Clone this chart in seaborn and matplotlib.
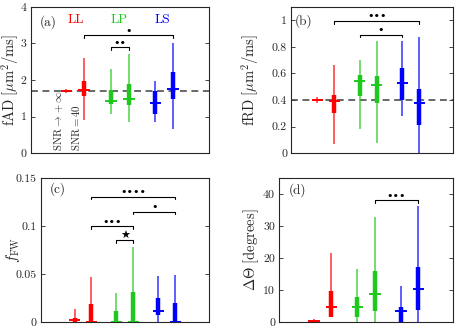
import numpy as np
import pandas as pd
import matplotlib
matplotlib.use("Agg")
import matplotlib.pyplot as plt
import seaborn as sns

# ---------------- data ----------------
positions = [1, 2, 3.5, 4.5, 6, 7]
group_colors = ["#ff0000", "#ff0000", "#1ec81e", "#1ec81e", "#0000ff", "#0000ff"]

# panel (a) fAD
a_wlo = [1.65, 0.91, 1.06, 0.85, 0.86, 0.66]
a_q1 = [1.68, 1.55, 1.35, 1.33, 1.06, 1.48]
a_med = [1.70, 1.72, 1.42, 1.49, 1.38, 1.76]
a_q3 = [1.72, 1.97, 1.74, 1.88, 1.70, 2.22]
a_whi = [1.75, 2.61, 2.31, 2.72, 1.96, 3.00]

# panel (b) fRD
b_wlo = [0.38, 0.07, 0.18, 0.075, 0.28, 0.0]
b_q1 = [0.395, 0.30, 0.43, 0.38, 0.40, 0.21]
b_med = [0.40, 0.39, 0.54, 0.515, 0.53, 0.375]
b_q3 = [0.405, 0.44, 0.59, 0.58, 0.64, 0.48]
b_whi = [0.42, 0.66, 0.70, 0.84, 0.84, 0.87]

# panel (c) fFW
c_wlo = [0.0, 0.0, 0.0, 0.0, 0.0, 0.0]
c_q1 = [0.0005, 0.0, 0.0, 0.0, 0.0073, 0.0]
c_med = [0.0025, 0.0, 0.0, 0.0, 0.0118, 0.0]
c_q3 = [0.004, 0.0187, 0.012, 0.031, 0.0253, 0.020]
c_whi = [0.0135, 0.0465, 0.0305, 0.0785, 0.048, 0.049]

# panel (d) Delta Theta
d_wlo = [0.0, 1.5, 0.0, 0.0, 0.0, 0.0]
d_q1 = [0.0, 1.5, 1.5, 3.5, 0.0, 3.7]
d_med = [0.3, 4.6, 4.6, 8.9, 3.5, 10.3]
d_q3 = [0.6, 9.7, 7.7, 16.0, 4.6, 17.2]
d_whi = [1.0, 21.6, 16.6, 32.7, 11.2, 36.1]

# significance brackets: (x index left, x index right, height, label)
a_sig = [(1, 5, 3.23, "•"), (2, 3, 2.90, "••")]
b_sig = [(1, 5, 0.995, "•••"), (2, 4, 0.89, "•")]
c_sig = [(1, 5, 0.1305, "••••"), (3, 5, 0.115, "•"), (1, 3, 0.100, "•••"), (2, 3, 0.0854, "★")]
d_sig = [(3, 5, 38.1, "•••")]

# ---------------- style ----------------
sns.set_theme(style="ticks")
plt.rcParams.update({
    "font.family": ["cmr10", "DejaVu Sans"],
    "mathtext.fontset": "cm",
    "axes.formatter.use_mathtext": True,
    "axes.edgecolor": "#262626",
    "axes.linewidth": 0.8,
    "xtick.direction": "in",
    "ytick.direction": "in",
    "ytick.major.size": 3,
    "ytick.major.width": 0.6,
    "ytick.labelsize": 8.5,
    "ytick.color": "#262626",
    "axes.labelsize": 10.5,
})

fig = plt.figure(figsize=(4.6, 3.3), dpi=100)

def panel(rect, wlo, q1, med, q3, whi, sig, ylim, yticks, yticklabels,
          ylabel, label_x, tag, tagpos, xlim=(-1, 9), dash=None):
    ax = fig.add_axes(rect)
    df = pd.DataFrame({"x": positions, "wlo": wlo, "q1": q1, "med": med,
                       "q3": q3, "whi": whi, "c": group_colors})
    if dash is not None:
        ax.axhline(dash, color="#404040", lw=1.1, ls=(0, (4.5, 3)), zorder=1)
    for _, r in df.iterrows():
        ax.vlines(r.x, r.wlo, r.whi, color=r.c, lw=1.1, alpha=0.8, zorder=2)
        ax.vlines(r.x, r.q1, r.q3, color=r.c, lw=3.2, zorder=3)
        ax.hlines(r.med, r.x - 0.33, r.x + 0.33, color=r.c, lw=1.4, zorder=4)
    h = ylim[1] - ylim[0]
    for i, j, y, lab in sig:
        x0, x1 = positions[i], positions[j]
        ax.plot([x0, x0, x1, x1], [y - h * 0.018, y, y, y - h * 0.018],
                color="black", lw=0.8, zorder=5)
        ax.text((x0 + x1) / 2, y - h * 0.004, lab, ha="center", va="bottom",
                fontsize=8 if lab != "★" else 8, family=["DejaVu Sans"],
                color="black")
    ax.set_xlim(*xlim)
    ax.set_ylim(*ylim)
    ax.set_xticks([])
    ax.set_yticks(yticks)
    ax.set_yticklabels(yticklabels)
    ax.tick_params(axis="y", right=True, left=True, pad=3)
    ax.set_ylabel(ylabel, va="center")
    ax.yaxis.set_label_coords(label_x, 0.5)
    ax.text(tagpos[0], tagpos[1], tag, transform=ax.transAxes, ha="left",
            va="center", fontsize=9.5)
    for s in ax.spines.values():
        s.set_visible(True)
    return ax

axa = panel([0.067, 0.536, 0.387, 0.443], a_wlo, a_q1, a_med, a_q3, a_whi, a_sig,
            (0, 4), [0, 1, 2, 3, 4], ["0", "1", "2", "3", "4"],
            r"$\mathrm{fAD}\ [\mu\mathrm{m}^2/\mathrm{ms}]$", -0.118, "(a)", (0.05, 0.897),
            dash=1.7)
for txt, x, col in [("LL", 1.52, "#ff0000"), ("LP", 3.95, "#1ec81e"), ("LS", 6.42, "#0000ff")]:
    axa.text(x, 3.64, txt, color=col, ha="center", va="center", fontsize=9.5)
axa.text(0.59, 0.06, r"$\mathrm{SNR}\rightarrow+\infty$", rotation=90, ha="center",
         va="bottom", fontsize=7.8)
axa.text(1.52, 0.06, r"$\mathrm{SNR}=40$", rotation=90, ha="center",
         va="bottom", fontsize=7.8)

panel([0.633, 0.536, 0.352, 0.443], b_wlo, b_q1, b_med, b_q3, b_whi, b_sig,
      (0, 1.1), [0, 0.2, 0.4, 0.6, 0.8, 1.0], ["0", "0.2", "0.4", "0.6", "0.8", "1"],
      r"$\mathrm{fRD}\ [\mu\mathrm{m}^2/\mathrm{ms}]$", -0.252, "(b)", (0.025, 0.90),
      xlim=(-0.55, 9.0), dash=0.4)

panel([0.089, 0.024, 0.365, 0.437], c_wlo, c_q1, c_med, c_q3, c_whi, c_sig,
      (0, 0.15), [0, 0.05, 0.1, 0.15], ["0", "0.05", "0.1", "0.15"],
      r"$f_{\mathrm{FW}}$", -0.165, "(c)", (0.053, 0.92))

panel([0.607, 0.024, 0.378, 0.437], d_wlo, d_q1, d_med, d_q3, d_whi, d_sig,
      (0, 45), [0, 10, 20, 30, 40], ["0", "10", "20", "30", "40"],
      r"$\Delta\Theta\ [\mathrm{degrees}]$", -0.16, "(d)", (0.054, 0.915))

fig.savefig("out.png", dpi=100)
